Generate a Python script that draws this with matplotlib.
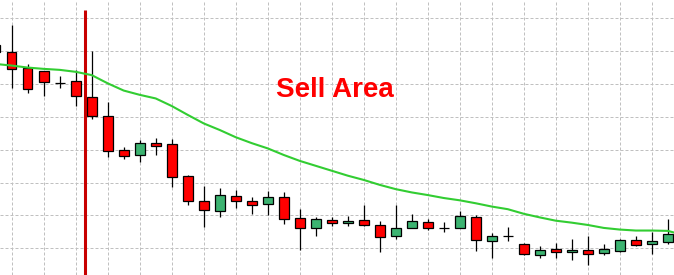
import numpy as np
import matplotlib
matplotlib.use("Agg")
import matplotlib.pyplot as plt
from matplotlib.patches import Rectangle

# candle index (0 = first full candle on the left), OHLC prices
idx = np.arange(-1, 42)
open_ = [1.31119, 1.31096, 1.31048, 1.31040, 1.31004, 1.31009, 1.30960, 1.30902, 1.30799,
         1.30783, 1.30820, 1.30816, 1.30719, 1.30644, 1.30613, 1.30658, 1.30643, 1.30634,
         1.30655, 1.30591, 1.30561, 1.30585, 1.30576, 1.30585, 1.30570, 1.30537, 1.30561,
         1.30579, 1.30561, 1.30561, 1.30594, 1.30521, 1.30537, 1.30512, 1.30479, 1.30497,
         1.30488, 1.30494, 1.30485, 1.30491, 1.30524, 1.30512, 1.30518]
high = [1.31134, 1.31180, 1.31061, 1.31040, 1.31024, 1.31043, 1.31101, 1.30945, 1.30808,
        1.30830, 1.30836, 1.30832, 1.30722, 1.30690, 1.30683, 1.30677, 1.30656, 1.30674,
        1.30670, 1.30620, 1.30594, 1.30594, 1.30598, 1.30632, 1.30582, 1.30632, 1.30603,
        1.30588, 1.30580, 1.30614, 1.30600, 1.30546, 1.30564, 1.30515, 1.30506, 1.30515,
        1.30527, 1.30537, 1.30512, 1.30527, 1.30537, 1.30549, 1.30588]
low = [1.31088, 1.30989, 1.30972, 1.30964, 1.30989, 1.30933, 1.30894, 1.30779, 1.30771,
       1.30764, 1.30785, 1.30687, 1.30631, 1.30566, 1.30596, 1.30624, 1.30605, 1.30602,
       1.30575, 1.30496, 1.30538, 1.30567, 1.30569, 1.30567, 1.30490, 1.30529, 1.30561,
       1.30555, 1.30551, 1.30561, 1.30493, 1.30471, 1.30521, 1.30479, 1.30471, 1.30471,
       1.30465, 1.30450, 1.30479, 1.30488, 1.30506, 1.30482, 1.30512]
close = [1.31097, 1.31045, 1.30984, 1.31005, 1.31004, 1.30963, 1.30902, 1.30795, 1.30780,
         1.30820, 1.30812, 1.30716, 1.30643, 1.30616, 1.30661, 1.30643, 1.30631, 1.30655,
         1.30588, 1.30561, 1.30588, 1.30576, 1.30582, 1.30570, 1.30533, 1.30561, 1.30582,
         1.30561, 1.30561, 1.30597, 1.30524, 1.30537, 1.30537, 1.30482, 1.30494, 1.30488,
         1.30494, 1.30482, 1.30497, 1.30524, 1.30509, 1.30521, 1.30543]

# moving average, one value per candle (last one belongs to the next bar)
ma_idx = np.arange(-1, 43)
ma = [1.31061, 1.31056, 1.31050, 1.31046, 1.31043, 1.31037, 1.31027, 1.31002, 1.30980,
      1.30967, 1.30956, 1.30933, 1.30906, 1.30880, 1.30860, 1.30838, 1.30820, 1.30804,
      1.30784, 1.30766, 1.30751, 1.30736, 1.30721, 1.30708, 1.30693, 1.30680, 1.30670,
      1.30662, 1.30653, 1.30646, 1.30637, 1.30627, 1.30619, 1.30605, 1.30594, 1.30584,
      1.30578, 1.30571, 1.30562, 1.30557, 1.30554, 1.30554, 1.30553, 1.30540]

signal_idx = 4.55
signal_top = 1.31225
label = "Sell Area"
label_pos = (20.2, 1.30983)

up_col = "#3cb371"
down_col = "#ff0000"

fig = plt.figure(figsize=(6.74, 2.75), dpi=100)
ax = fig.add_axes([0, 0, 1, 1])
ax.set_xlim(-0.731, 41.39)
ax.set_ylim(1.304187, 1.312556)

# grid
ax.set_xticks(np.arange(0, 42, 2))
ax.set_yticks(np.arange(1.3050, 1.31201, 0.001))
ax.grid(True, color="#c0c0c0", linestyle=(0, (3, 2)), linewidth=0.72)
ax.tick_params(length=0, labelbottom=False, labelleft=False)
for s in ax.spines.values():
    s.set_visible(False)
ax.set_axisbelow(True)

w = 0.6
for i, o, h, l, c in zip(idx, open_, high, low, close):
    ax.vlines(i, l, h, color="black", linewidth=0.9, zorder=2)
    col = up_col if c > o else down_col
    ax.add_patch(Rectangle((i - w / 2, min(o, c)), w, abs(c - o),
                           facecolor=col, edgecolor="black", linewidth=0.9, zorder=3))

ax.vlines(signal_idx, 1.30, signal_top, color="#c80000", linewidth=2.2, zorder=4)
ax.plot(ma_idx, ma, color="#32cd32", linewidth=1.5, zorder=5)

ax.text(label_pos[0], label_pos[1], label, color="#ff0000", fontsize=20,
        fontweight="bold", family="Liberation Sans", ha="center", va="center")

fig.savefig("out.png", dpi=100)
